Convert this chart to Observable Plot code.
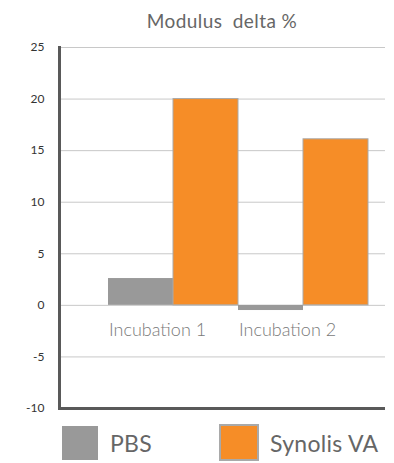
<!DOCTYPE html>
<html>
<head>
<meta charset="utf-8">
<script src="https://cdn.jsdelivr.net/npm/d3@7"></script>
<script src="https://cdn.jsdelivr.net/npm/@observablehq/plot@0.6"></script>
<style>
  html, body { margin: 0; padding: 0; background: #fff; }
  body { width: 394px; height: 463px; overflow: hidden; font-family: Lato, "Open Sans", sans-serif; }
  #title { height: 40px; margin-left: 59px; width: 326px; text-align: center; font-size: 19px; color: #666; line-height: 42px; letter-spacing: 0.4px; }
  #legend { position: relative; height: 43px; }
  .sw { position: absolute; box-sizing: border-box; }
  .lab { position: absolute; font-size: 23px; color: #666; line-height: 34px; letter-spacing: 0.3px; }
</style>
</head>
<body>
<div id="title">Modulus&nbsp; delta %</div>
<div id="chart"></div>
<div id="legend"></div>
<script>
const groups = ["Incubation 1", "Incubation 2"];
const series = ["PBS", "Synolis VA"];
const pbsValues = [2.6, -0.5];
const synolisValues = [20, 16.1];
const yTicks = [-10, -5, 0, 5, 10, 15, 20, 25];
const colors = ["#999999", "#f68d27"];
const strokes = ["none", "#a9a9a9"];

const data = [];
groups.forEach((g, i) => {
  data.push({group: g, series: series[0], key: g + "|" + series[0], value: pbsValues[i]});
  data.push({group: g, series: series[1], key: g + "|" + series[1], value: synolisValues[i]});
});
const keys = data.map(d => d.key);

const chart = Plot.plot({
  width: 394,
  height: 380,
  marginTop: 7,
  marginBottom: 12,
  marginLeft: 59,
  marginRight: 9,
  style: {fontFamily: "Lato, 'Open Sans', sans-serif", background: "#fff"},
  x: {type: "band", domain: keys, range: [107, 368], paddingInner: 0, paddingOuter: 0, axis: null},
  y: {domain: [-10, 25], ticks: yTicks},
  color: {domain: series, range: colors},
  marks: [
    Plot.gridY(yTicks, {stroke: "#c8c8c8", strokeOpacity: 1, strokeWidth: 1}),
    Plot.axisY(yTicks, {tickSize: 0, tickPadding: 15, fontSize: 12, fill: "#333", label: null, tickFormat: d => String(d)}),
    Plot.barY(data, {x: "key", y: "value", fill: "series", stroke: d => d.series === series[1] ? strokes[1] : "none", strokeWidth: 1, inset: 0}),
    Plot.text(groups, {x: g => g + "|" + series[0], y: () => 0, text: d => d, textAnchor: "start", dx: -32, dy: 25, fontSize: 18, fill: "#7a7a7a", fontWeight: 300}),
    Plot.ruleY([-10], {stroke: "#595959", strokeWidth: 3}),
    Plot.frame({anchor: "left", stroke: "#595959", strokeWidth: 3})
  ]
});
document.getElementById("chart").appendChild(chart);

const legend = document.getElementById("legend");
const legItems = [
  {sw: [62, 6, 36, 34], lab: 110},
  {sw: [219, 4, 40, 37], lab: 270}
];
series.forEach((s, i) => {
  const sw = document.createElement("div");
  sw.className = "sw";
  const [l, t, w, h] = legItems[i].sw;
  sw.style.left = l + "px"; sw.style.top = t + "px"; sw.style.width = w + "px"; sw.style.height = h + "px";
  sw.style.background = colors[i];
  if (strokes[i] !== "none") sw.style.border = "2px solid " + strokes[i];
  legend.appendChild(sw);
  const lab = document.createElement("div");
  lab.className = "lab";
  lab.style.left = legItems[i].lab + "px";
  lab.style.top = "6px";
  lab.textContent = s;
  legend.appendChild(lab);
});
</script>
</body>
</html>
